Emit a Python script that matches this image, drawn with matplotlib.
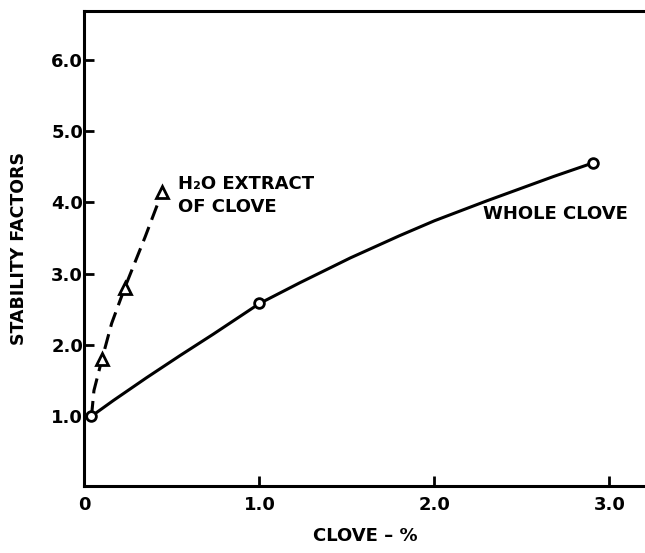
import matplotlib
matplotlib.use('Agg')
import matplotlib.pyplot as plt

# values (curve traced through the plotted points)
whole_x = [0.04, 0.165, 0.355, 0.546, 0.736, 1.0, 1.23, 1.52, 1.80, 2.0, 2.30, 2.68, 2.905]
whole_y = [1.0, 1.22, 1.54, 1.85, 2.15, 2.58, 2.87, 3.22, 3.53, 3.74, 4.02, 4.36, 4.55]
whole_marks = [0, 5, 12]

h2o_x = [0.04, 0.054, 0.1, 0.155, 0.23, 0.346, 0.445]
h2o_y = [1.0, 1.36, 1.8, 2.3, 2.8, 3.51, 4.15]
h2o_marks = [2, 4, 6]

xticks = [0, 1.0, 2.0, 3.0]
xticklabels = ['0', '1.0', '2.0', '3.0']
yticks = [1.0, 2.0, 3.0, 4.0, 5.0, 6.0]
yticklabels = ['1.0', '2.0', '3.0', '4.0', '5.0', '6.0']

plt.rcParams['font.family'] = ['DejaVu Sans']
plt.rcParams['font.weight'] = 'bold'

fig = plt.figure(figsize=(6.45, 5.53), dpi=100)
ax = fig.add_axes([0.131, 0.121, 0.879, 0.859])

ax.plot(whole_x, whole_y, color='black', lw=2.2, solid_capstyle='round', solid_joinstyle='round')
ax.plot([whole_x[i] for i in whole_marks], [whole_y[i] for i in whole_marks], 'o',
        ms=7, mfc='white', mec='black', mew=2, zorder=5)

ax.plot(h2o_x, h2o_y, color='black', lw=2.2, dashes=(5, 2.5))
ax.plot([h2o_x[i] for i in h2o_marks], [h2o_y[i] for i in h2o_marks], '^',
        ms=9, mfc='white', mec='black', mew=2, zorder=5)

ax.text(0.534, 4.26, 'H₂O EXTRACT', fontsize=13, fontweight='bold', va='center', ha='left')
ax.text(0.534, 3.93, 'OF CLOVE', fontsize=13, fontweight='bold', va='center', ha='left')
ax.text(2.28, 3.83, 'WHOLE CLOVE', fontsize=13, fontweight='bold', va='center', ha='left')

ax.set_xlim(0, 3.24)
ax.set_ylim(0.02, 6.68)
ax.set_xticks(xticks)
ax.set_xticklabels(xticklabels)
ax.set_yticks(yticks)
ax.set_yticklabels(yticklabels)
ax.tick_params(axis='x', direction='in', length=7, width=2, labelsize=13, pad=7)
ax.tick_params(axis='y', direction='in', length=7, width=2, labelsize=13, pad=1)

for s in ax.spines.values():
    s.set_linewidth(2.2)
ax.spines['right'].set_visible(False)

fig.text(0.03, 0.55, 'STABILITY FACTORS', rotation=90, fontsize=12.5, fontweight='bold',
         ha='center', va='center')
fig.text(0.567, 0.015, 'CLOVE – %', fontsize=13, fontweight='bold', ha='center', va='bottom')

fig.savefig('out.png', dpi=100)
